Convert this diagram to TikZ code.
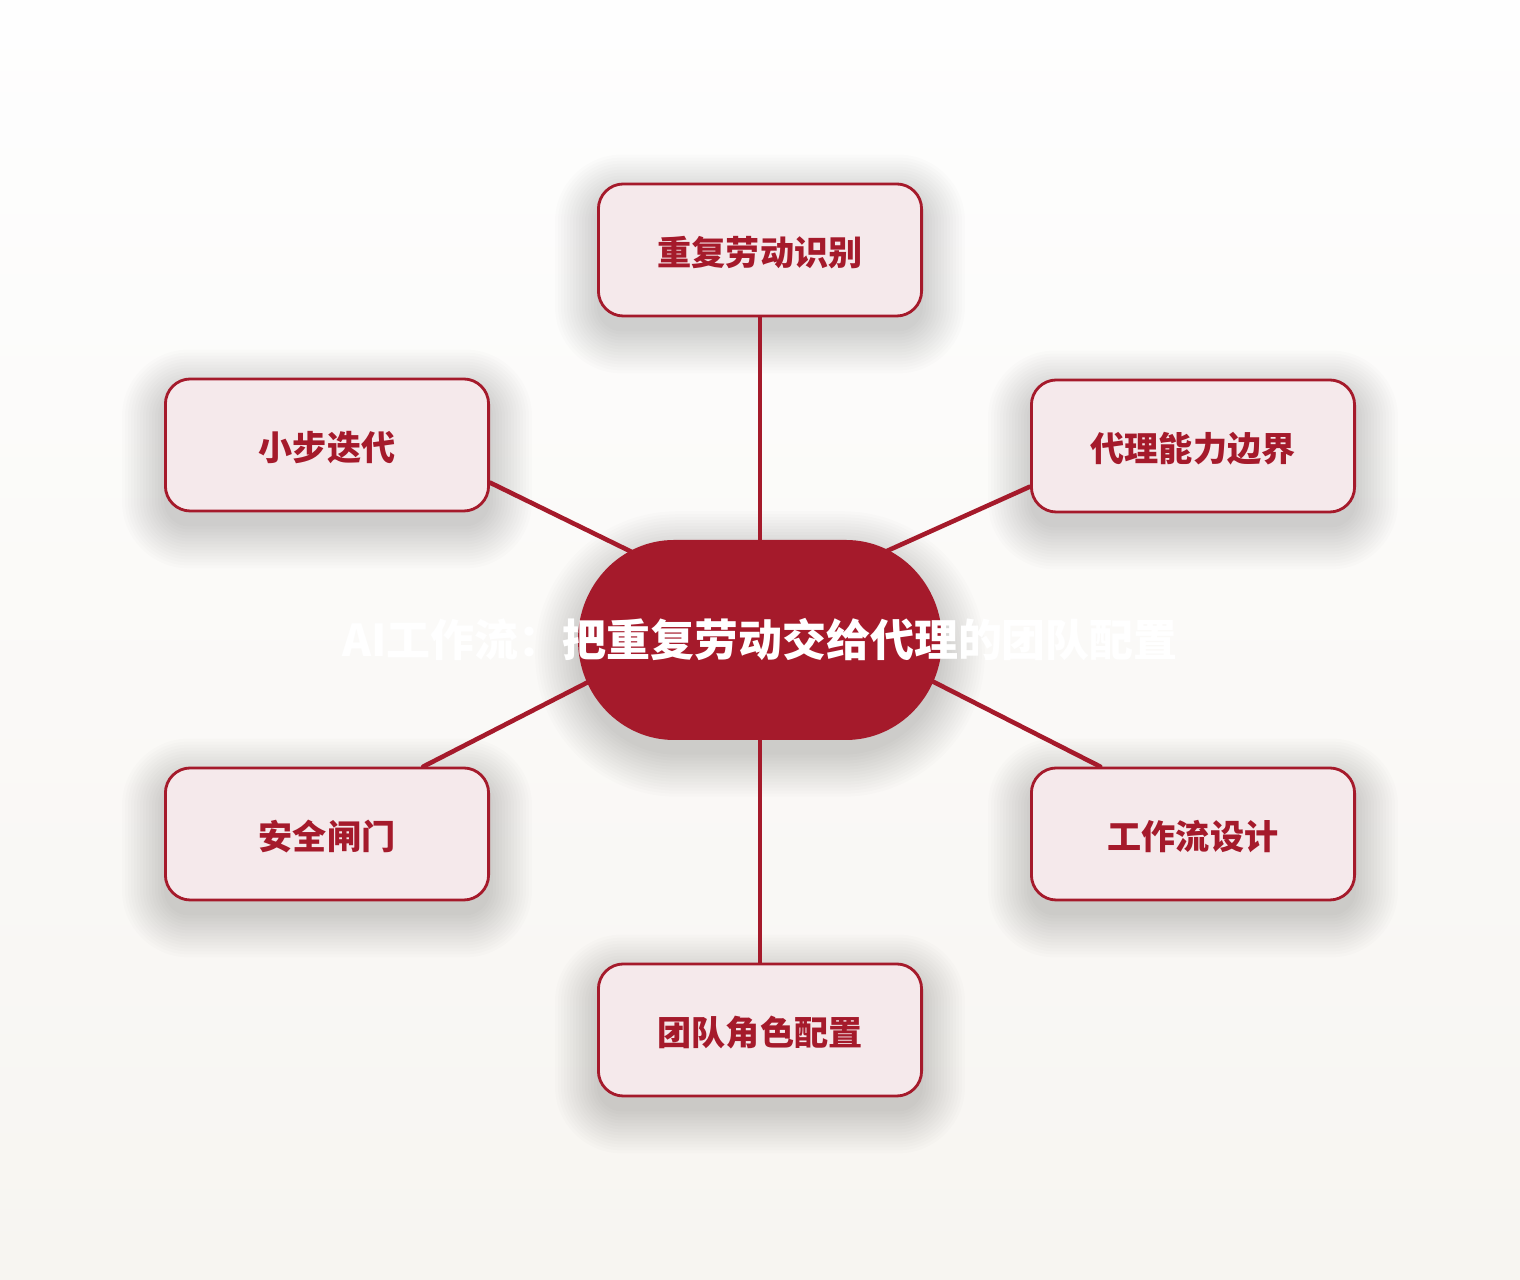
\documentclass[tikz,border=0pt]{standalone}
\usepackage{fontspec}
\newfontfamily\cjk{Noto Sans CJK SC}
\usetikzlibrary{positioning, calc, backgrounds}
\definecolor{hubred}{HTML}{A51A2B}
\definecolor{boxfill}{HTML}{F5E9EB}
\definecolor{bgtop}{HTML}{FEFEFE}
\definecolor{bgbottom}{HTML}{F7F5F1}

\begin{document}
\begin{tikzpicture}[x=0.01cm, y=-0.01cm,
  topicbox/.style={draw=hubred, line width=0.8pt, fill=boxfill, rounded corners=0.25cm,
    minimum width=3.23cm, minimum height=1.32cm, inner sep=0pt, text=hubred,
    text height=0.36cm, text depth=0.04cm,
    font=\cjk\bfseries\fontsize{9.7}{12}\selectfont},
  hubnode/.style={minimum width=3.64cm, minimum height=2cm, inner sep=0pt},
  spoke/.style={draw=hubred, line width=1.3pt, line cap=round},
  shadelayer/.style={fill=black, fill opacity=0.011}]
\useasboundingbox (0,0) rectangle (1520,1280);
% topics
\node[topicbox] (repeat) at (760,250) {重复劳动识别};
\node[topicbox] (iterate) at (327,445) {小步迭代};
\node[topicbox] (limits) at (1193,446) {代理能力边界};
\node[topicbox] (gate) at (327,834) {安全闸门};
\node[topicbox] (flow) at (1193,834) {工作流设计};
\node[topicbox] (roles) at (760,1030) {团队角色配置};
% hub
\node[hubnode] (hub) at (760,640) {};
\fill[hubred] (674,540) -- (846,540)
  arc[start angle=-90, end angle=90, x radius=96, y radius=100] -- (674,740)
  arc[start angle=90, end angle=270, x radius=96, y radius=100] -- cycle;
\node[text=white, font=\cjk\bfseries\fontsize{12.5}{15}\selectfont] (title) at (hub)
  {AI工作流：把重复劳动交给代理的团队配置};
\begin{pgfonlayer}{background}
\shade[top color=bgtop, bottom color=bgbottom] (0,0) rectangle (1520,1280);
% soft shadows
\foreach \n in {repeat,iterate,limits,gate,flow,roles} {
  \foreach \k in {0,...,14} {
    \pgfmathsetmacro{\r}{(25+3*\k)*0.2845}
    \fill[shadelayer, rounded corners=\r pt] ($(\n.north west)+(-3*\k,-3*\k+14)$)
      rectangle ($(\n.south east)+(3*\k,3*\k+14)$);
  }
}
\foreach \k in {0,...,14} {
  \pgfmathsetmacro{\r}{(100+3*\k)*0.2845}
  \fill[shadelayer, rounded corners=\r pt] ($(hub.north west)+(-3*\k,-3*\k+14)$)
    rectangle ($(hub.south east)+(3*\k,3*\k+14)$);
}
\draw[spoke] (repeat) -- (hub);
\draw[spoke] (roles) -- (hub);
\draw[spoke] (iterate.-13.5) -- ($(hub)+(-120,-84)$);
\draw[spoke] (limits.-166.2) -- ($(hub)+(118,-85)$);
\draw[spoke] (gate.35.8) -- ($(hub)+(-160,36)$);
\draw[spoke] (flow.144.2) -- ($(hub)+(160,35)$);
\end{pgfonlayer}
\end{tikzpicture}
\end{document}
